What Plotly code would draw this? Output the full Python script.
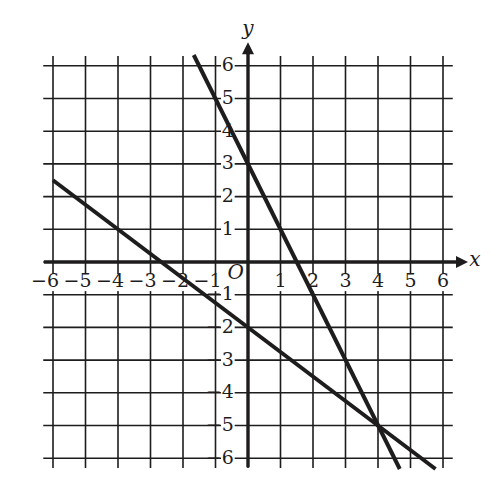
import plotly.graph_objects as go

# ---- data ----
x_ticks = [-6, -5, -4, -3, -2, -1, 1, 2, 3, 4, 5, 6]
y_ticks = [-6, -5, -4, -3, -2, -1, 1, 2, 3, 4, 5, 6]
x_tick_labels = ["−6", "−5", "−4", "−3", "−2", "−1", "1", "2", "3", "4", "5", "6"]
y_tick_labels = ["−6", "−5", "−4", "−3", "−2", "−1", "1", "2", "3", "4", "5", "6"]
grid_values = [-6, -5, -4, -3, -2, -1, 0, 1, 2, 3, 4, 5, 6]

# line y = -2x + 3
line_a_x = [-1.67, 0, 4, 4.67]
line_a_y = [6.33, 3, -5, -6.33]
# line y = -0.75x - 2
line_b_x = [-6.0, 0, 4, 5.77]
line_b_y = [2.5, -2, -5, -6.33]

# ---- style ----
INK = "#1e1c1d"
FONT = "DejaVu Serif"
FS = 19
HALF_DIGIT = 0.185
G_LO, G_HI = -6.3, 6.3
AX_X_END, AX_Y_END = 6.77, 6.72
AX_LO = -6.28

fig = go.Figure()

shapes = []
# grid
for g in grid_values:
    shapes.append(dict(type="line", xref="x", yref="y", x0=g, x1=g, y0=G_LO, y1=G_HI,
                       line=dict(color=INK, width=1.6), layer="below"))
    shapes.append(dict(type="line", xref="x", yref="y", x0=G_LO, x1=G_HI, y0=g, y1=g,
                       line=dict(color=INK, width=1.6), layer="below"))
# white knock-outs behind tick digits
XL_Y = -0.63
YL_X = -0.62
for t in x_ticks:
    shapes.append(dict(type="rect", xref="x", yref="y", x0=t - 0.21, x1=t + 0.21,
                       y0=XL_Y - 0.26, y1=XL_Y + 0.26, fillcolor="white",
                       line=dict(width=0), layer="below"))
for t in y_ticks:
    shapes.append(dict(type="rect", xref="x", yref="y", x0=YL_X - 0.21, x1=YL_X + 0.21,
                       y0=t - 0.26, y1=t + 0.26, fillcolor="white",
                       line=dict(width=0), layer="below"))
fig.update_layout(shapes=shapes)

# tick labels (digit centred on tick / left of axis)
fig.add_trace(go.Scatter(
    x=[t + HALF_DIGIT for t in x_ticks], y=[XL_Y] * len(x_ticks), text=x_tick_labels,
    mode="text", textposition="middle left",
    textfont=dict(family=FONT, size=FS, color=INK), hoverinfo="skip", showlegend=False))
fig.add_trace(go.Scatter(
    x=[YL_X + HALF_DIGIT] * len(y_ticks), y=[t - 0.02 for t in y_ticks], text=y_tick_labels,
    mode="text", textposition="middle left",
    textfont=dict(family=FONT, size=FS, color=INK), hoverinfo="skip", showlegend=False))
# O, x, y labels
fig.add_trace(go.Scatter(
    x=[-0.38, 6.98, 0.0], y=[-0.38, 0.04, 7.08], text=["<i>O</i>", "<i>x</i>", "<i>y</i>"],
    mode="text", textposition="middle center",
    textfont=dict(family=FONT, size=FS + 1, color=INK), hoverinfo="skip", showlegend=False))

# axes
fig.add_trace(go.Scatter(x=[AX_LO, AX_X_END - 0.2], y=[0, 0], mode="lines",
                         line=dict(color=INK, width=3.4), hoverinfo="skip", showlegend=False))
fig.add_trace(go.Scatter(x=[0, 0], y=[AX_LO, AX_Y_END - 0.2], mode="lines",
                         line=dict(color=INK, width=3.4), hoverinfo="skip", showlegend=False))
fig.add_trace(go.Scatter(x=[AX_X_END], y=[0], mode="markers",
                         marker=dict(symbol="arrow-right", size=12, color=INK, line=dict(width=0)),
                         hoverinfo="skip", showlegend=False))
fig.add_trace(go.Scatter(x=[0], y=[AX_Y_END], mode="markers",
                         marker=dict(symbol="arrow-up", size=12, color=INK, line=dict(width=0)),
                         hoverinfo="skip", showlegend=False))

# the two lines
fig.add_trace(go.Scatter(x=line_a_x, y=line_a_y, mode="lines",
                         line=dict(color=INK, width=4), hoverinfo="skip", showlegend=False))
fig.add_trace(go.Scatter(x=line_b_x, y=line_b_y, mode="lines",
                         line=dict(color=INK, width=4), hoverinfo="skip", showlegend=False))

# page body has an 8px margin; ranges compensate so the grid lands where the reference has it
fig.update_xaxes(range=[-240 / 32.5, 261 / 32.5], visible=False, showgrid=False, zeroline=False)
fig.update_yaxes(range=[-232 / 32.7, 254 / 32.7], visible=False, showgrid=False, zeroline=False)
fig.update_layout(width=501, height=486, autosize=False,
                  margin=dict(l=0, r=0, t=0, b=0),
                  paper_bgcolor="white", plot_bgcolor="white")

fig.write_html("out.html")
